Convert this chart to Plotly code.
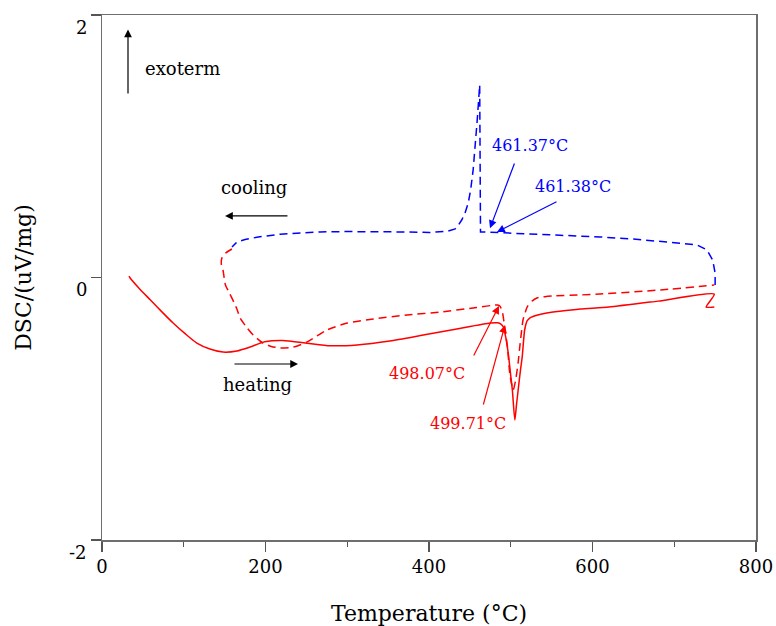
import plotly.graph_objects as go

# Heating curve (solid red)
heat_x = [33, 34, 45, 59, 73, 87, 102, 116, 132, 148, 165, 181, 199, 221, 251, 279, 312, 352, 393, 434, 475, 484, 488, 491,
          494, 497, 500, 502, 505, 507, 509, 512, 514, 517, 520, 524, 533, 544, 560, 585, 620, 680, 749, 739, 749]
heat_y = [0.01, 0.0, -0.08, -0.17, -0.26, -0.347, -0.43, -0.50, -0.545, -0.568, -0.56, -0.53, -0.49, -0.48, -0.50, -0.52, -0.514, -0.484, -0.438, -0.392, -0.347, -0.345, -0.355, -0.377,
          -0.46, -0.58, -0.75, -0.86, -1.086, -0.97, -0.86, -0.70, -0.606, -0.40, -0.33, -0.305, -0.285, -0.27, -0.257, -0.24, -0.225, -0.18, -0.126, -0.225, -0.225]

# Second run (dashed red)
run2_x = [159, 152, 147, 146, 148, 151, 156, 160, 165, 169, 177, 185, 197, 207, 218, 234, 251, 263, 275, 300, 332, 373, 414, 454, 484,
          487, 490, 493, 496, 499, 503, 506, 509, 511, 513, 515, 518, 520, 526, 532, 542, 552, 585, 609, 683, 749]
run2_y = [0.217, 0.19, 0.156, 0.10, 0.057, -0.057, -0.12, -0.171, -0.24, -0.309, -0.38, -0.438, -0.50, -0.525, -0.537, -0.530, -0.491, -0.445, -0.40, -0.347, -0.316, -0.286, -0.263, -0.232, -0.21,
          -0.22, -0.27, -0.40, -0.53, -0.743, -0.857, -0.78, -0.65, -0.53, -0.42, -0.324, -0.26, -0.225, -0.18, -0.156, -0.146, -0.141, -0.133, -0.126, -0.095, -0.057]

# Cooling curve (dashed blue)
cool_x = [750, 750, 747, 740, 728, 710, 691, 650, 609, 560, 520, 483, 466, 463, 462, 459, 456, 454, 451, 448, 444, 440, 436, 432, 422,
          401, 370, 340, 300, 267, 240, 218, 193, 175, 165, 159]
cool_y = [-0.057, 0.034, 0.133, 0.21, 0.248, 0.26, 0.27, 0.293, 0.309, 0.322, 0.334, 0.347, 0.347, 0.347, 1.467, 1.2, 0.97, 0.82, 0.67, 0.567, 0.49, 0.438, 0.40, 0.37, 0.352,
          0.343, 0.347, 0.35, 0.35, 0.347, 0.34, 0.33, 0.31, 0.29, 0.27, 0.232]

x_ticks = [0, 200, 400, 600, 800]
y_ticks = [-2, 0, 2]

peak_labels = ["461.37°C", "461.38°C", "498.07°C", "499.71°C"]

SERIF = "DejaVu Serif"

fig = go.Figure()
fig.add_trace(go.Scatter(x=heat_x, y=heat_y, mode="lines",
                         line=dict(color="#ff0000", width=1.5, shape="spline", smoothing=0.6), hoverinfo="skip"))
fig.add_trace(go.Scatter(x=run2_x, y=run2_y, mode="lines",
                         line=dict(color="#ff0000", width=1.5, dash="8px,5px", shape="spline", smoothing=0.6),
                         hoverinfo="skip"))
fig.add_trace(go.Scatter(x=cool_x, y=cool_y, mode="lines",
                         line=dict(color="#0000ff", width=1.5, dash="8px,5px"), hoverinfo="skip"))

ann = []
# y tick labels (shifted below ticks like the reference)
for v in y_ticks:
    ann.append(dict(x=0, xref="paper", y=v, yref="y", text=str(v), showarrow=False,
                    xanchor="right", yanchor="middle", xshift=-13, yshift=-12,
                    font=dict(family=SERIF, size=18, color="black")))

def text(x, y, t, color, size):
    ann.append(dict(x=x, y=y, xref="x", yref="y", text=t, showarrow=False,
                    xanchor="center", yanchor="middle",
                    font=dict(family=SERIF, size=size, color=color)))

def arrow(x0, y0, x1, y1, color):
    ann.append(dict(x=x1, y=y1, ax=x0, ay=y0, xref="x", yref="y", axref="x", ayref="y",
                    text="", showarrow=True, arrowhead=2, arrowsize=1.3, arrowwidth=1.2,
                    arrowcolor=color))

text(99, 1.596, "exoterm", "black", 18)
arrow(31.8, 1.39, 31.8, 1.89, "black")
text(186, 0.682, "cooling", "black", 18)
arrow(228.7, 0.469, 150.5, 0.469, "black")
text(190.8, -0.815, "heating", "black", 18)
arrow(160.2, -0.659, 239.8, -0.659, "black")

text(523.5, 1.002, peak_labels[0], "#0000ff", 16)
arrow(505.2, 0.88, 474.6, 0.375, "#0000ff")
text(576, 0.69, peak_labels[1], "#0000ff", 16)
arrow(557.8, 0.583, 483.2, 0.347, "#0000ff")
text(397.6, -0.728, peak_labels[2], "#ff0000", 16)
arrow(453.8, -0.606, 485.6, -0.217, "#ff0000")
text(447.7, -1.109, peak_labels[3], "#ff0000", 16)
arrow(466, -0.979, 493, -0.362, "#ff0000")

fig.update_layout(
    width=776, height=626,
    margin=dict(l=102, r=20, t=15, b=86),
    paper_bgcolor="white", plot_bgcolor="white",
    showlegend=False,
    hovermode=False,
    annotations=ann,
    xaxis=dict(range=[0, 800], tickvals=x_ticks, ticks="outside", ticklen=10, tickcolor="#555",
               tickwidth=1.2, showline=True, linecolor="#6e6e6e", linewidth=1.5, mirror=True,
               showgrid=False, zeroline=False, automargin=False,
               minor=dict(dtick=100, tick0=0, ticks="outside", ticklen=5, tickcolor="#555", tickwidth=1.2),
               tickfont=dict(family=SERIF, size=18, color="black"),
               title=dict(text="Temperature (°C)", font=dict(family=SERIF, size=22, color="black"), standoff=31)),
    yaxis=dict(range=[-2, 2], tickvals=y_ticks, ticks="outside", ticklen=10, tickcolor="#555",
               tickwidth=1.2, showline=True, linecolor="#6e6e6e", linewidth=1.5, mirror=True,
               showgrid=False, zeroline=False, showticklabels=False, automargin=False,
               title=dict(text="DSC/(uV/mg)", font=dict(family=SERIF, size=22, color="black"), standoff=53)),
)

fig.write_html(
    "out.html",
    config={"displayModeBar": False, "staticPlot": True},
    post_script="document.body.style.margin='0';document.documentElement.style.overflow='hidden';",
)
